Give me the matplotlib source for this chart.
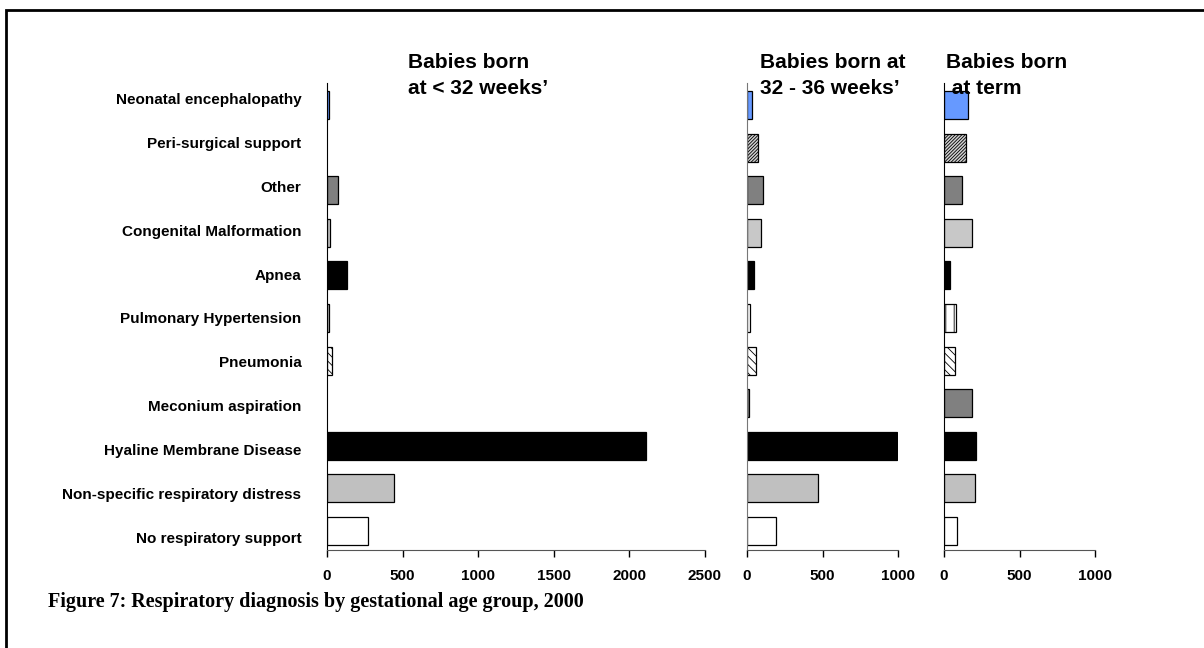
import matplotlib
matplotlib.use('Agg')
import matplotlib.pyplot as plt
from matplotlib.patches import Rectangle
import matplotlib.transforms as mtransforms

# categories, bottom -> top
categories = ['No respiratory support', 'Non-specific respiratory distress',
              'Hyaline Membrane Disease', 'Meconium aspiration', 'Pneumonia',
              'Pulmonary Hypertension', 'Apnea', 'Congenital Malformation',
              'Other', 'Peri-surgical support', 'Neonatal encephalopathy']

under32 = [270, 443, 2110, 0, 30, 12, 130, 20, 70, 0, 15]
wk32_36 = [189, 470, 993, 12, 57, 22, 48, 93, 106, 73, 35]
term = [86, 204, 211, 183, 75, 82, 37, 187, 119, 148, 157]

titles = ["Babies born\nat < 32 weeks\u2019", "Babies born at\n32 - 36 weeks\u2019",
          "Babies born\n at term"]
xmax = [2500, 1000, 1000]
xticks = [[0, 500, 1000, 1500, 2000, 2500], [0, 500, 1000], [0, 500, 1000]]

# style per category (bottom -> top)
fills = ['white', '#c0c0c0', 'black', '#808080', 'white', 'white', 'black',
         '#c8c8c8', '#808080', '#d0d0d0', '#6699ff']
hatches = [None, None, None, None, '\\\\\\\\', '||', None, None, None, '//////////', None]

plt.rcParams['font.family'] = ['Liberation Sans', 'DejaVu Sans']
plt.rcParams['hatch.linewidth'] = 0.6

fig = plt.figure(figsize=(12.04, 6.48), dpi=100)
W, H = 1204.0, 648.0

# frame
fig.patches.append(Rectangle((6 / W, -0.1), 1.2, 1 - 10 / H + 0.1,
                             transform=fig.transFigure, fill=False,
                             edgecolor='black', linewidth=2))

lefts = [327, 747, 944]
px_per_unit = 378.0 / 2500
bottom, top = 550, 83
series = [under32, wk32_36, term]
title_x = [408, 760, 946]
spine_col = ['black', '#777777', 'black']

for i in range(3):
    w = xmax[i] * px_per_unit
    ax = fig.add_axes([lefts[i] / W, 1 - bottom / H, w / W, (bottom - top) / H])
    ys = range(len(categories))
    for y, v, c, h in zip(ys, series[i], fills, hatches):
        if v <= 0:
            continue
        ax.barh(y, v, height=0.66, color=c, edgecolor='black', linewidth=0.9,
                hatch=h)
    ax.set_xlim(0, xmax[i])
    ax.set_ylim(-0.45, 10.52)
    ax.set_xticks(xticks[i])
    ax.set_xticklabels([str(t) for t in xticks[i]], fontsize=11, fontweight='bold')
    ax.tick_params(axis='x', direction='out', length=5, width=1, pad=9)
    ax.tick_params(axis='y', length=0)
    for s in ['top', 'right']:
        ax.spines[s].set_visible(False)
    ax.spines['bottom'].set_color('#555555')
    ax.spines['left'].set_color(spine_col[i])
    ax.set_facecolor('none')
    if i == 0:
        ax.set_yticks(list(ys))
        ax.set_yticklabels(categories, fontsize=11, fontweight='bold')
        ax.tick_params(axis='y', pad=18.5)
        # labels are spread a bit wider than the bars
        for k, lab in enumerate(ax.get_yticklabels()):
            d = (7 - 1.4 * k) / 100
            off = mtransforms.ScaledTranslation(0, -d, fig.dpi_scale_trans)
            lab.set_transform(lab.get_transform() + off)
    else:
        ax.set_yticks([])
    fig.text(title_x[i] / W, 1 - 53 / H, titles[i], fontsize=15, fontweight='bold',
             ha='left', va='top', linespacing=1.45)

fig.text(48 / W, 1 - 602 / H,
         'Figure 7: Respiratory diagnosis by gestational age group, 2000',
         fontsize=14.5, fontweight='bold', family=['Liberation Serif', 'DejaVu Serif'],
         ha='left', va='center')

fig.savefig('out.png', dpi=100)
